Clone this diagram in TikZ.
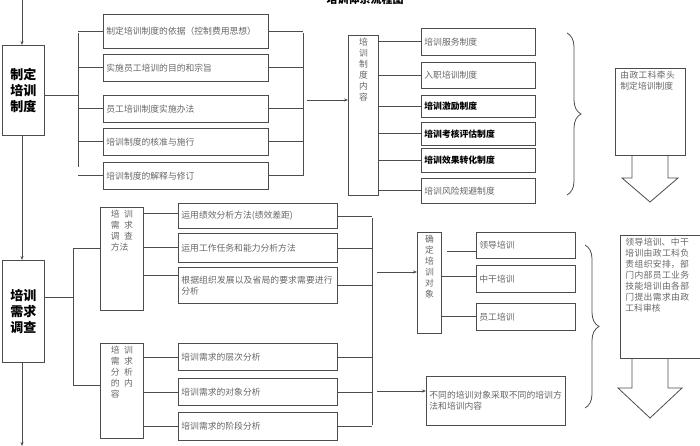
\documentclass[tikz,border=0pt]{standalone}
\usepackage{fontspec}
\setmainfont{Noto Sans CJK SC}
\XeTeXlinebreaklocale "zh"
\XeTeXlinebreakskip=0pt plus 1pt
\usetikzlibrary{arrows.meta,decorations.pathreplacing}
\tikzset{
  box/.style={draw=black!70,line width=0.8pt,anchor=north west,inner sep=3pt,align=left,text=black!60,font=\fontsize{8.8}{11}\selectfont},
  txt/.style={box,draw=none,anchor=north},
  bold/.style={text=black,font=\fontsize{8.8}{11}\selectfont\bfseries},
  big/.style={text=black,font=\fontsize{13}{16}\selectfont\bfseries,align=center},
  wire/.style={draw=black!70,line width=0.8pt},
  arr/.style={wire,-{Stealth[length=4pt]}}
}
\begin{document}
\begin{tikzpicture}[x=1pt,y=1pt,yscale=-1]
\useasboundingbox (0,0) rectangle (700,446);
% title
\node[font=\fontsize{11}{13}\selectfont\bfseries] (title) at (365,-1) {培训体系流程图};

% left column
\node[box,big,minimum width=42,minimum height=90] (zd) at (2,45) {制定\\培训\\制度};
\node[box,big,minimum width=42,minimum height=102] (xq) at (2,260) {培训\\需求\\调查};
\coordinate (top) at (22,0);
\coordinate (bot) at (22,446);
\draw[arr] (top) -- (zd.north -| top);
\draw[arr] (zd.south -| top) -- (xq.north -| top);
\draw[arr] (xq.south -| top) -- (bot);

% upper block
\node[box,text width=159,minimum height=34] (a1) at (103,14) {制定培训制度的依据（控制费用思想）};
\node[box,text width=159,minimum height=27] (a2) at (103,54) {实施员工培训的目的和宗旨};
\node[box,text width=159,minimum height=27] (a3) at (103,95) {员工培训制度实施办法};
\node[box,text width=159,minimum height=27] (a4) at (103,128) {培训制度的核准与施行};
\node[box,text width=159,minimum height=27] (a5) at (103,162) {培训制度的解释与修订};
\draw[wire] (zd.east |- 0,95) -- (78,95);
\draw[wire] (78,33) -- (78,167);
\foreach \n in {a1,a2,a3,a4,a5} \draw[wire] (\n.west) -- (78,0 |- \n.west);
\draw[wire] (303,33) -- (303,176);
\foreach \n in {a1,a2,a3,a4,a5} \draw[wire] (\n.east) -- (303,0 |- \n.east);

\node[box,minimum width=30,minimum height=160] (nr) at (348,35) {};
\node[txt] at (nr.north) {培\\训\\制\\度\\内\\容};
\draw[arr] (307,100) -- (nr.west |- 0,100);

\node[box,text width=108,minimum height=27] (b1) at (421,28) {培训服务制度};
\node[box,text width=108,minimum height=26] (b2) at (421,62) {入职培训制度};
\node[box,bold,text width=108,minimum height=22] (b3) at (421,95) {培训激励制度};
\node[box,bold,text width=108,minimum height=23] (b4) at (421,122) {培训考核评估制度};
\node[box,bold,text width=108,minimum height=24] (b5) at (421,148) {培训效果转化制度};
\node[box,text width=108,minimum height=25] (b6) at (421,178) {培训风险规避制度};
\foreach \n in {b1,b2,b3,b4,b5,b6} \draw[wire] (\n.west) -- (nr.east |- \n.west);

\draw[wire,decorate,decoration={brace,amplitude=14pt}] (567,33) -- (567,195);
\node[box,minimum width=70,minimum height=87] (zg) at (615,68) {};
\node[txt,text width=60] at (zg.north) {由政工科牵头制定培训制度};
\draw[wire] (632,155) -- (632,178) -- (622,178) -- (650,202) -- (678,178) -- (668,178) -- (668,155);

% lower block
\node[box,minimum width=43,minimum height=103] (ff) at (100,207) {};
\node[txt] at (ff.north) {培\enspace 训\\需\enspace 求\\调\enspace 查\\方法};
\node[box,minimum width=43,minimum height=95] (nrr) at (100,343) {};
\node[txt] at (nrr.north) {培\enspace 训\\需\enspace 求\\分\enspace 析\\的\enspace 内\\容};
\draw[wire] (xq.east |- 0,297) -- (73,297);
\draw[wire] (73,248) -- (73,385) -- (nrr.west |- 0,385);
\draw[wire] (73,248) -- (ff.west |- 0,248);

\node[box,text width=153,minimum height=25] (c1) at (178,203) {运用绩效分析方法(绩效差距)};
\node[box,text width=153,minimum height=29] (c2) at (178,233) {运用工作任务和能力分析方法};
\node[box,text width=153,minimum height=36] (c3) at (178,267) {根据组织发展以及省局的要求需要进行分析};
\node[box,text width=153,minimum height=27] (d1) at (178,343) {培训需求的层次分析};
\node[box,text width=153,minimum height=27] (d2) at (178,378) {培训需求的对象分析};
\node[box,text width=153,minimum height=28] (d3) at (178,412) {培训需求的阶段分析};
\draw[wire] (ff.east |- 0,213) -- (c1.west |- 0,213);
\draw[wire] (ff.east |- 0,247) -- (c2.west |- 0,247);
\draw[wire] (ff.east |- 0,275) -- (c3.west |- 0,275);
\foreach \n in {d1,d2,d3} \draw[wire] (nrr.east |- \n.west) -- (\n.west);
\draw[wire] (372,218) -- (372,425);
\foreach \n in {c1,c2,c3,d1,d2,d3} \draw[wire] (\n.east) -- (372,0 |- \n.east);

\node[box,minimum width=24,minimum height=101] (dx) at (417,232) {};
\node[txt] at (dx.north) {确\\定\\培\\训\\对\\象};
\draw[arr] (377,272) -- (dx.west |- 0,272);
\node[box,text width=93,minimum height=26] (e1) at (476,232) {领导培训};
\node[box,text width=93,minimum height=27] (e2) at (476,265) {中干培训};
\node[box,text width=93,minimum height=27] (e3) at (476,303) {员工培训};
\draw[wire] (447,251) -- (e1.west |- 0,251);
\draw[wire] (dx.east |- 0,276) -- (e2.west |- 0,276);
\draw[wire] (dx.east |- 0,316) -- (e3.west |- 0,316);
\node[box,text width=133,minimum height=49] (bt) at (426,376) {不同的培训对象采取不同的培训方法和培训内容};
\draw[arr] (377,391) -- (bt.west |- 0,391);

\draw[wire,decorate,decoration={brace,amplitude=14pt}] (585,245) -- (585,408);
\node[box,minimum width=80,minimum height=123] (ld) at (620,235) {};
\node[txt,text width=70] at (ld.north) {领导培训、中干培训由政工科负责组织安排，部门内部员工业务技能培训由各部门提出需求由政工科审核};
\draw[wire] (632,358) -- (632,388) -- (618,388) -- (650,418) -- (682,388) -- (668,388) -- (668,358);
\end{tikzpicture}
\end{document}
